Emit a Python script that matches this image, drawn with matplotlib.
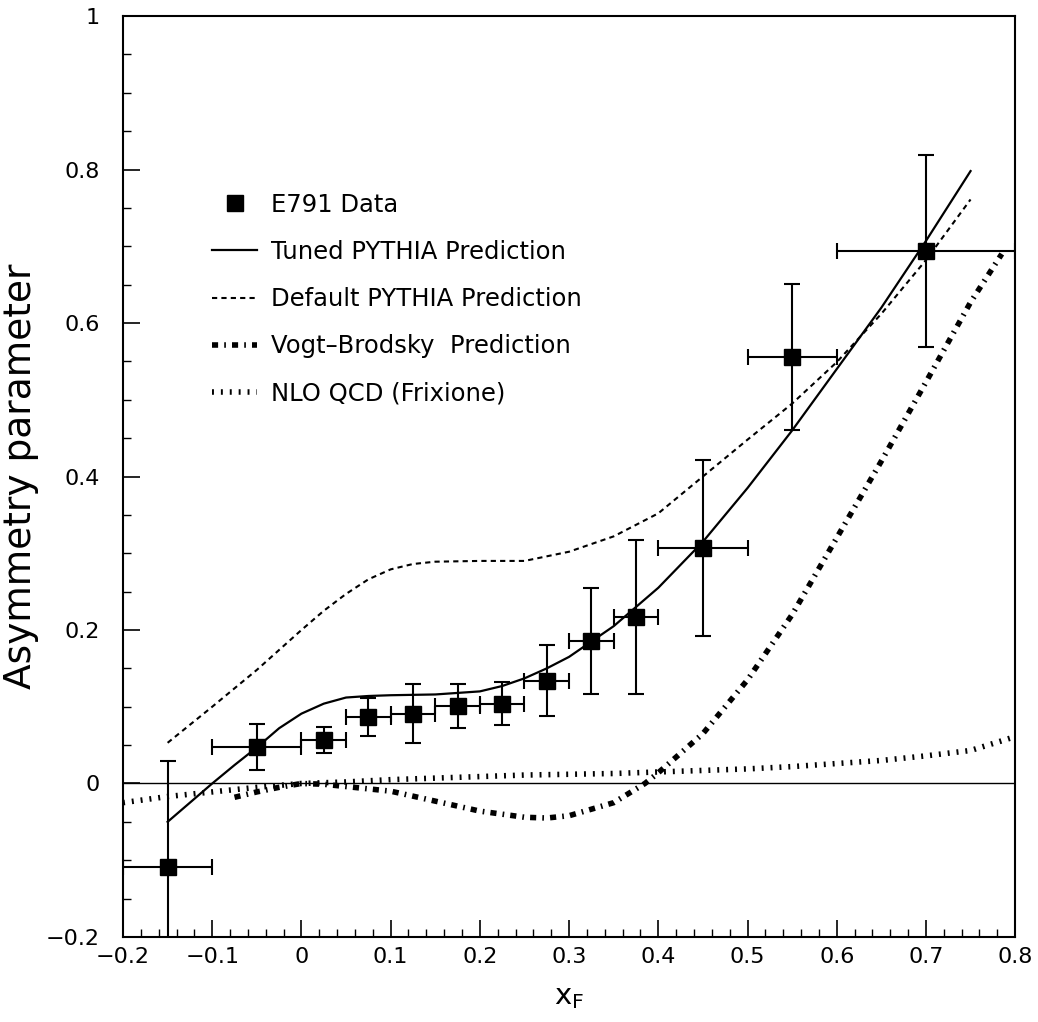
import numpy as np
import matplotlib
matplotlib.use('Agg')
import matplotlib.pyplot as plt
from matplotlib.lines import Line2D

# E791 data points
data_x = [-0.15, -0.05, 0.025, 0.075, 0.125, 0.175, 0.225, 0.275, 0.325, 0.375, 0.45, 0.55, 0.70]
data_y = [-0.109, 0.048, 0.057, 0.087, 0.091, 0.101, 0.104, 0.134, 0.186, 0.217, 0.307, 0.556, 0.694]
data_yerr = [0.138, 0.030, 0.017, 0.025, 0.038, 0.029, 0.028, 0.046, 0.069, 0.100, 0.115, 0.095, 0.125]
data_xerr = [0.05, 0.05, 0.025, 0.025, 0.025, 0.025, 0.025, 0.025, 0.025, 0.025, 0.05, 0.05, 0.10]

# tuned PYTHIA
tuned_x = [-0.15, -0.125, -0.1, -0.075, -0.05, -0.025, 0, 0.025, 0.05, 0.075, 0.1, 0.15, 0.2,
           0.225, 0.25, 0.275, 0.3, 0.35, 0.4, 0.45, 0.5, 0.55, 0.6, 0.65, 0.7, 0.75]
tuned_y = [-0.05, -0.025, 0.0, 0.024, 0.047, 0.072, 0.091, 0.104, 0.112, 0.114, 0.115, 0.116, 0.12,
           0.127, 0.137, 0.15, 0.165, 0.205, 0.255, 0.315, 0.385, 0.46, 0.54, 0.62, 0.707, 0.798]

# default PYTHIA
default_x = [-0.15, -0.1, -0.05, 0, 0.025, 0.05, 0.075, 0.1, 0.125, 0.15, 0.2, 0.25, 0.3, 0.35,
             0.4, 0.45, 0.5, 0.55, 0.6, 0.65, 0.7, 0.75]
default_y = [0.053, 0.1, 0.148, 0.2, 0.225, 0.247, 0.266, 0.279, 0.286, 0.289, 0.29, 0.29, 0.302, 0.322,
             0.352, 0.40, 0.448, 0.495, 0.549, 0.612, 0.682, 0.761]

# Vogt-Brodsky
vb_x = [-0.075, -0.05, -0.025, 0, 0.025, 0.05, 0.1, 0.15, 0.2, 0.25, 0.275, 0.3, 0.35, 0.385,
        0.4, 0.45, 0.5, 0.55, 0.6, 0.65, 0.7, 0.75, 0.785]
vb_y = [-0.018, -0.011, -0.005, 0.0, -0.001, -0.004, -0.01, -0.023, -0.036, -0.044, -0.045, -0.042, -0.025, 0.0,
        0.014, 0.065, 0.135, 0.22, 0.32, 0.42, 0.523, 0.627, 0.69]

# NLO QCD (Frixione)
nlo_x = [-0.2, -0.15, -0.1, -0.05, 0, 0.05, 0.1, 0.15, 0.2, 0.25, 0.3, 0.35, 0.4, 0.45, 0.5,
         0.55, 0.6, 0.65, 0.7, 0.75, 0.8]
nlo_y = [-0.025, -0.017, -0.011, -0.005, 0.0, 0.002, 0.005, 0.007, 0.009, 0.011, 0.012, 0.013, 0.015, 0.017, 0.019,
         0.022, 0.026, 0.03, 0.036, 0.043, 0.061]

legend_labels = ['E791 Data', 'Tuned PYTHIA Prediction', 'Default PYTHIA Prediction',
                 'Vogt\u2013Brodsky  Prediction', 'NLO QCD (Frixione)']

fig = plt.figure(figsize=(10.38, 10.22), dpi=100)
ax = fig.add_axes([0.1185, 0.0832, 0.8595, 0.9011])

ax.axhline(0, color='black', lw=1.0, zorder=1)

p1, = ax.plot(tuned_x, tuned_y, color='black', lw=1.6)
p2, = ax.plot(default_x, default_y, color='black', lw=1.5, linestyle=(0, (2.5, 2.0)))
p3, = ax.plot(vb_x, vb_y, color='black', lw=4, linestyle=(0, (1.1, 1.1, 0.3, 1.1)))
p4, = ax.plot(nlo_x, nlo_y, color='black', lw=4, linestyle=(0, (0.35, 1.25)))

ax.errorbar(data_x, data_y, yerr=data_yerr, xerr=data_xerr, fmt='s', color='black',
            markersize=11.5, elinewidth=1.5, capsize=6, capthick=1.5, zorder=5)

p0 = Line2D([], [], marker='s', color='black', linestyle='none', markersize=11)
ax.legend([p0, p1, p2, p3, p4], legend_labels, loc='upper left', bbox_to_anchor=(0.1, 0.808),
          frameon=False, fontsize=17.5, handlelength=1.85, handletextpad=0.58, labelspacing=0.95,
          borderpad=0, borderaxespad=0)

ax.set_xlim(-0.2, 0.8)
ax.set_ylim(-0.2, 1.0)
ax.set_xticks(np.arange(-0.2, 0.81, 0.1))
ax.set_xticks(np.arange(-0.2, 0.81, 0.02), minor=True)
ax.set_yticks(np.arange(-0.2, 1.01, 0.2))
ax.set_yticks(np.arange(-0.2, 1.01, 0.05), minor=True)
ax.set_xticklabels(['\u22120.2', '\u22120.1', '0', '0.1', '0.2', '0.3', '0.4', '0.5', '0.6', '0.7', '0.8'])
ax.set_yticklabels(['\u22120.2', '0', '0.2', '0.4', '0.6', '0.8', '1'])
ax.tick_params(which='major', direction='in', length=12, width=1.2, labelsize=16)
ax.tick_params(axis='x', which='major', pad=7)
ax.tick_params(axis='y', which='major', pad=17)
ax.tick_params(which='minor', direction='in', length=6, width=1.0)
ax.tick_params(top=False, right=False, which='both')
for s in ax.spines.values():
    s.set_linewidth(1.5)

ax.set_xlabel('x$_\\mathregular{F}$', fontsize=21)
ax.set_ylabel('Asymmetry parameter', fontsize=27)
ax.xaxis.set_label_coords(0.5, -0.05)
ax.yaxis.set_label_coords(-0.094, 0.5)

fig.savefig('out.png', dpi=100)
